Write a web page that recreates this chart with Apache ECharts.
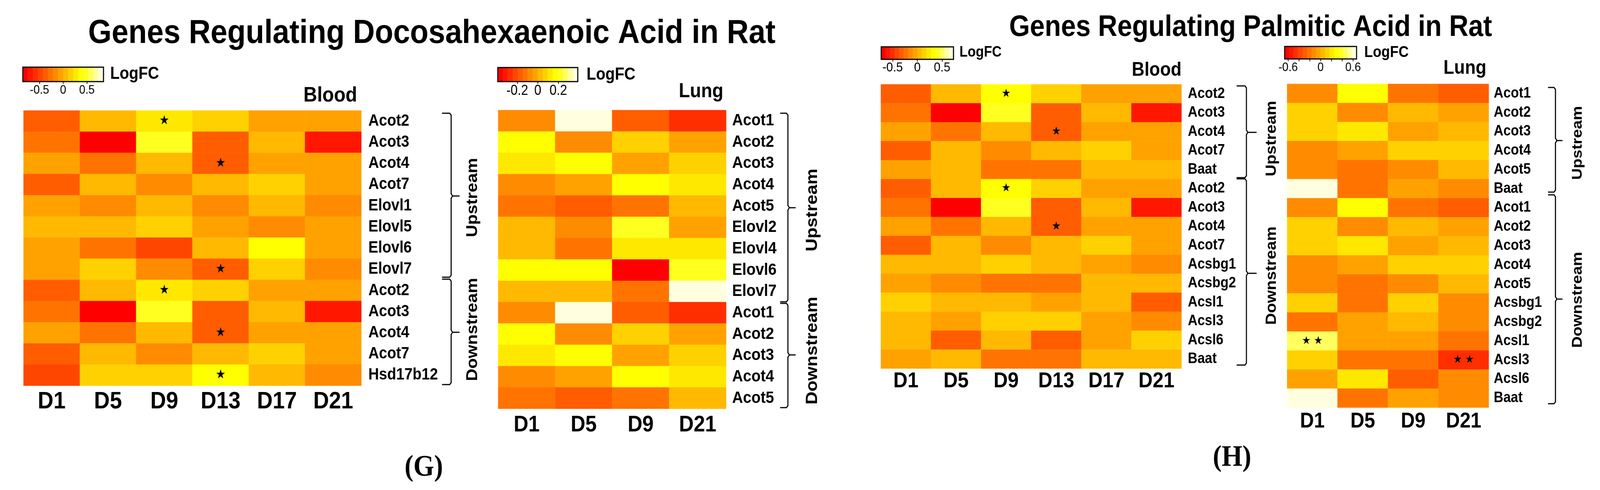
<!DOCTYPE html>
<html><head><meta charset="utf-8">
<script src="https://cdn.jsdelivr.net/npm/echarts@6/dist/echarts.min.js"></script>
<style>html,body{margin:0;padding:0;background:#fff;overflow:hidden}#c{width:4561px;height:1255px;transform-origin:0 0}</style>
</head><body><div id="c"></div>
<script>
// ---------------- DATA ----------------
const palette = ['#FF0000','#FF1700','#FF2E00','#FF4600','#FF5D00','#FF7400','#FF8B00','#FFA200',
                 '#FFB900','#FFD100','#FFE800','#FFFF00','#FFFF20','#FFFF60','#FFFF9F','#FFFFDF'];

const daysBlood = ['D1','D5','D9','D13','D17','D21'];
const daysLung = ['D1','D5','D9','D21'];

// (G) Docosahexaenoic acid - Blood
const gBloodGenes = ['Acot2','Acot3','Acot4','Acot7','Elovl1','Elovl5','Elovl6','Elovl7',
                     'Acot2','Acot3','Acot4','Acot7','Hsd17b12'];
const gBloodValues = [
  [-0.37, 0.05, 0.27, 0.16,-0.05,-0.05],
  [-0.27,-0.80, 0.48,-0.37, 0.05,-0.69],
  [-0.05,-0.27, 0.05,-0.37,-0.05,-0.05],
  [-0.37, 0.05,-0.16, 0.05, 0.16,-0.05],
  [-0.05,-0.16, 0.05,-0.16, 0.05,-0.16],
  [ 0.05, 0.05, 0.16,-0.05,-0.16,-0.05],
  [-0.05,-0.27,-0.48, 0.05, 0.37,-0.05],
  [-0.05, 0.16,-0.16,-0.37, 0.16,-0.16],
  [-0.37, 0.05, 0.27, 0.16,-0.05,-0.05],
  [-0.27,-0.80, 0.48,-0.37, 0.05,-0.69],
  [-0.05,-0.27, 0.05,-0.37,-0.05,-0.05],
  [-0.37, 0.05,-0.16, 0.05, 0.16,-0.05],
  [-0.48, 0.16, 0.16, 0.37, 0.05,-0.16]
];
const gBloodStars = [[2,0,1],[3,2,1],[3,7,1],[2,8,1],[3,10,1],[3,12,1]]; // [col,row,count]
const gBloodRange = 0.85;
const gBloodTickLabels = [-0.5, 0, 0.5];

// (G) Docosahexaenoic acid - Lung
const gLungGenes = ['Acot1','Acot2','Acot3','Acot4','Acot5','Elovl2','Elovl4','Elovl6','Elovl7',
                    'Acot1','Acot2','Acot3','Acot4','Acot5'];
const gLungValues = [
  [-0.07, 0.37,-0.17,-0.27],
  [ 0.17,-0.07, 0.07,-0.02],
  [ 0.12, 0.17,-0.02, 0.07],
  [-0.07,-0.02, 0.17, 0.12],
  [-0.12,-0.17,-0.12, 0.02],
  [ 0.02,-0.07, 0.22,-0.02],
  [ 0.02,-0.12, 0.12, 0.12],
  [ 0.17, 0.17,-0.37, 0.22],
  [ 0.02, 0.02,-0.12, 0.37],
  [-0.07, 0.37,-0.17,-0.27],
  [ 0.17,-0.07, 0.07,-0.02],
  [ 0.12, 0.17,-0.02, 0.07],
  [-0.07,-0.02, 0.17, 0.12],
  [-0.12,-0.17,-0.12, 0.02]
];
const gLungStars = [];
const gLungRange = 0.39;
const gLungTickLabels = [-0.2, 0, 0.2];

// (H) Palmitic acid - Blood
const hBloodGenes = ['Acot2','Acot3','Acot4','Acot7','Baat','Acot2','Acot3','Acot4','Acot7',
                     'Acsbg1','Acsbg2','Acsl1','Acsl3','Acsl6','Baat'];
const hBloodValues = [
  [-0.32, 0.05, 0.32, 0.14,-0.05,-0.05],
  [-0.23,-0.68, 0.41,-0.32, 0.05,-0.59],
  [-0.05,-0.23, 0.05,-0.32,-0.05,-0.05],
  [-0.32, 0.05,-0.14, 0.05, 0.14,-0.05],
  [-0.05, 0.05,-0.23,-0.23, 0.05, 0.05],
  [-0.32, 0.05, 0.32, 0.14,-0.05,-0.05],
  [-0.23,-0.68, 0.41,-0.32, 0.05,-0.59],
  [-0.05,-0.23, 0.05,-0.32,-0.05,-0.05],
  [-0.32, 0.05,-0.14, 0.05, 0.14,-0.05],
  [ 0.05, 0.05, 0.14, 0.05,-0.05,-0.14],
  [-0.05,-0.14,-0.23,-0.23, 0.05, 0.05],
  [ 0.14, 0.05, 0.05,-0.05, 0.05,-0.32],
  [ 0.05,-0.05, 0.14, 0.14,-0.05,-0.14],
  [ 0.05,-0.32, 0.05,-0.32,-0.05, 0.14],
  [-0.05, 0.05,-0.23,-0.23, 0.05, 0.05]
];
const hBloodStars = [[2,0,1],[3,2,1],[2,5,1],[3,7,1]];
const hBloodRange = 0.73;
const hBloodTickLabels = [-0.5, 0, 0.5];

// (H) Palmitic acid - Lung
const hLungGenes = ['Acot1','Acot2','Acot3','Acot4','Acot5','Baat','Acot1','Acot2','Acot3','Acot4','Acot5',
                    'Acsbg1','Acsbg2','Acsl1','Acsl3','Acsl6','Baat'];
const hLungValues = [
  [-0.12, 0.29,-0.21,-0.29],
  [ 0.12,-0.12, 0.04,-0.04],
  [ 0.12, 0.21,-0.04, 0.04],
  [-0.12,-0.04, 0.12, 0.12],
  [-0.12,-0.21,-0.12, 0.04],
  [ 0.62,-0.21,-0.04,-0.12],
  [-0.12, 0.29,-0.21,-0.29],
  [ 0.12,-0.12, 0.04,-0.04],
  [ 0.12, 0.21,-0.04, 0.04],
  [-0.12,-0.04, 0.12, 0.12],
  [-0.12,-0.21,-0.12, 0.04],
  [ 0.12,-0.21, 0.12,-0.12],
  [-0.21,-0.04, 0.04,-0.12],
  [ 0.46,-0.04,-0.04,-0.21],
  [ 0.12,-0.21,-0.21,-0.46],
  [-0.04, 0.21,-0.29,-0.12],
  [ 0.62,-0.21,-0.04,-0.12]
];
const hLungStars = [[0,13,2],[3,14,2]];
const hLungRange = 0.665;
const hLungTickLabels = [-0.6, 0, 0.6];
const hLungTickMarks = [-0.6, -0.4, -0.2, 0, 0.2, 0.4, 0.6];

// ---------------- LAYOUT / STYLE ----------------
const W = 4561, H = 1255;
const SANS = "'Liberation Sans', Arial, Helvetica, sans-serif";
const SERIF = "'Liberation Serif', 'Times New Roman', serif";

const panels = [
  { days: daysBlood, genes: gBloodGenes, values: gBloodValues, stars: gBloodStars, range: gBloodRange,
    tickLabels: gBloodTickLabels, tickMarks: gBloodTickLabels,
    heat: {left: 67, top: 283, width: 963, height: 705},
    bar: {left: 65, top: 172, width: 230, height: 37},
    colFont: 62, colMargin: 10, rowFont: 42, rowMargin: 20, tickFont: 32, tickMargin: 6, starFont: 32 },
  { days: daysLung, genes: gLungGenes, values: gLungValues, stars: gLungStars, range: gLungRange,
    tickLabels: gLungTickLabels, tickMarks: gLungTickLabels,
    heat: {left: 1420, top: 282, width: 650, height: 765},
    bar: {left: 1419, top: 173, width: 228, height: 36},
    colFont: 58, colMargin: 13, rowFont: 43, rowMargin: 17, tickFont: 36, tickMargin: 6, starFont: 32 },
  { days: daysBlood, genes: hBloodGenes, values: hBloodValues, stars: hBloodStars, range: hBloodRange,
    tickLabels: hBloodTickLabels, tickMarks: hBloodTickLabels,
    heat: {left: 2511, top: 216, width: 857, height: 728},
    bar: {left: 2512, top: 120, width: 206, height: 32},
    colFont: 56, colMargin: 5, rowFont: 38, rowMargin: 18, tickFont: 34, tickMargin: 5, starFont: 29 },
  { days: daysLung, genes: hLungGenes, values: hLungValues, stars: hLungStars, range: hLungRange,
    tickLabels: hLungTickLabels, tickMarks: hLungTickMarks,
    heat: {left: 3669, top: 215, width: 575, height: 829},
    bar: {left: 3662, top: 119, width: 205, height: 32},
    colFont: 55, colMargin: 8, rowFont: 38, rowMargin: 14, tickFont: 32, tickMargin: 6, starFont: 28 }
];

const option = { animation: false, backgroundColor: '#ffffff',
  grid: [], xAxis: [], yAxis: [], series: [], visualMap: [], graphic: { elements: [] } };

function addPanel(p) {
  const gHeat = option.grid.length;
  option.grid.push({ left: p.heat.left, top: p.heat.top, width: p.heat.width, height: p.heat.height });
  const xH = option.xAxis.length;
  option.xAxis.push({ type: 'category', gridIndex: gHeat, data: p.days, position: 'bottom',
    axisLine: {show: false}, axisTick: {show: false}, splitLine: {show: false},
    axisLabel: { interval: 0, fontSize: p.colFont, fontWeight: 'bold', color: '#000', fontFamily: SANS, margin: p.colMargin } });
  const yH = option.yAxis.length;
  option.yAxis.push({ type: 'category', gridIndex: gHeat, data: p.genes, inverse: true, position: 'right',
    axisLine: {show: false}, axisTick: {show: false}, splitLine: {show: false},
    axisLabel: { interval: 0, fontSize: p.rowFont, fontWeight: 'bold', color: '#000', fontFamily: SANS, margin: p.rowMargin } });
  const starMap = {};
  p.stars.forEach(s => { starMap[s[0] + '_' + s[1]] = s[2]; });
  const data = [];
  p.values.forEach((row, r) => row.forEach((v, c) => {
    const n = starMap[c + '_' + r];
    if (n) data.push({ value: [c, r, v], label: { show: true, formatter: n === 2 ? '★ ★' : '★' } });
    else data.push([c, r, v]);
  }));
  const sHeat = option.series.length;
  option.series.push({ type: 'heatmap', xAxisIndex: xH, yAxisIndex: yH, data: data,
    label: { show: false, color: '#000', fontSize: p.starFont, fontFamily: "'DejaVu Sans', sans-serif" },
    itemStyle: { borderWidth: 0 }, emphasis: { disabled: true } });

  // colour key
  const gBar = option.grid.length;
  option.grid.push({ left: p.bar.left, top: p.bar.top, width: p.bar.width, height: p.bar.height,
    show: true, borderColor: '#000', borderWidth: 3, backgroundColor: 'transparent', z: 10 });
  const xBarCat = option.xAxis.length;
  option.xAxis.push({ type: 'category', gridIndex: gBar, data: palette.map((_, i) => i), show: false, position: 'top' });
  option.xAxis.push({ type: 'value', gridIndex: gBar, min: -p.range, max: p.range, position: 'bottom',
    axisLine: {show: false}, splitLine: {show: false},
    axisTick: { show: true, customValues: p.tickMarks, length: 6, lineStyle: {color: '#000', width: 2} },
    axisLabel: { customValues: p.tickLabels, fontSize: p.tickFont, color: '#000', fontFamily: SANS, margin: p.tickMargin } });
  const yBar = option.yAxis.length;
  option.yAxis.push({ type: 'category', gridIndex: gBar, data: ['LogFC'], show: false });
  const step = 2 * p.range / palette.length;
  const pieces = palette.map((col, i) => i < palette.length - 1
    ? { gte: -p.range + i * step, lt: -p.range + (i + 1) * step, color: col }
    : { gte: -p.range + i * step, lte: p.range, color: col });
  const sBar = option.series.length;
  option.series.push({ type: 'heatmap', xAxisIndex: xBarCat, yAxisIndex: yBar,
    data: palette.map((_, i) => [i, 0, -p.range + (i + 0.5) * step]), emphasis: { disabled: true } });
  option.visualMap.push({ type: 'piecewise', show: false, dimension: 2, seriesIndex: [sHeat, sBar], pieces: pieces });
}
panels.forEach(addPanel);

function txt(t, x, y, size, o) {
  o = o || {};
  const al = o.align || 'center';
  return { type: 'text', x: x, y: y, rotation: o.rot || 0, z: 50,
    style: { text: t, font: (o.weight || 'bold') + ' ' + size + 'px ' + (o.family || SANS), fill: '#000',
      textAlign: al, textVerticalAlign: 'middle', align: al, verticalAlign: 'middle' } };
}
function bracket(x, y1, y2, ym, h, t) {
  return { type: 'polyline', z: 50, shape: { points: [
    [x - h, y1], [x - 4, y1], [x, y1 + 5], [x, ym - 6], [x + 4, ym], [x + t, ym], [x + 4, ym],
    [x, ym + 6], [x, y2 - 5], [x - 4, y2], [x - h, y2] ] },
    style: { stroke: '#000', lineWidth: 3, fill: null } };
}
const R = Math.PI / 2;
option.graphic.elements.push(
  txt('Genes Regulating Docosahexaenoic Acid in Rat', 1231, 86, 86),
  txt('Genes Regulating Palmitic Acid in Rat', 3565, 71, 76),
  txt('LogFC', 314, 190, 44, {align: 'left'}),
  txt('LogFC', 1672, 192, 44, {align: 'left'}),
  txt('LogFC', 2735, 135, 38, {align: 'left'}),
  txt('LogFC', 3889, 135, 40, {align: 'left'}),
  txt('Blood', 1018, 245, 54, {align: 'right'}),
  txt('Lung', 2062, 235, 52, {align: 'right'}),
  txt('Blood', 3368, 180, 50, {align: 'right'}),
  txt('Lung', 4237, 175, 50, {align: 'right'}),
  txt('Upstream', 1348, 506, 44, {rot: R}),
  txt('Downstream', 1348, 844, 44, {rot: R}),
  txt('Upstream', 2316, 538, 46, {rot: R}),
  txt('Downstream', 2316, 898, 46, {rot: R}),
  txt('Upstream', 3625, 355, 42, {rot: R}),
  txt('Downstream', 3625, 706, 42, {rot: R}),
  txt('Upstream', 4498, 366, 41, {rot: R}),
  txt('Downstream', 4498, 768, 41, {rot: R}),
  txt('(G)', 1208, 1198, 76, {family: SERIF}),
  txt('(H)', 3512, 1173, 76, {family: SERIF}),
  bracket(1286, 290, 710, 502, 26, 24),
  bracket(1286, 715, 985, 851, 26, 24),
  bracket(2246, 290, 773, 532, 22, 22),
  bracket(2246, 777, 1044, 909, 22, 22),
  bracket(3553, 220, 455, 339, 28, 29),
  bracket(3553, 458, 935, 700, 28, 29),
  bracket(4434, 224, 492, 360, 21, 20),
  bracket(4434, 499, 1034, 766, 21, 20)
);

// The page is designed at 4561x1255; fit it into whatever viewport the browser really has.
const box = document.getElementById('c');
const sx = Math.min(1, (window.innerWidth || W) / W);
const sy = Math.min(1, (window.innerHeight || H) / H);
box.style.transform = 'scale(' + sx + ',' + sy + ')';

const chart = echarts.init(box, null, { renderer: 'canvas', width: W, height: H });
chart.setOption(option);
</script></body></html>
